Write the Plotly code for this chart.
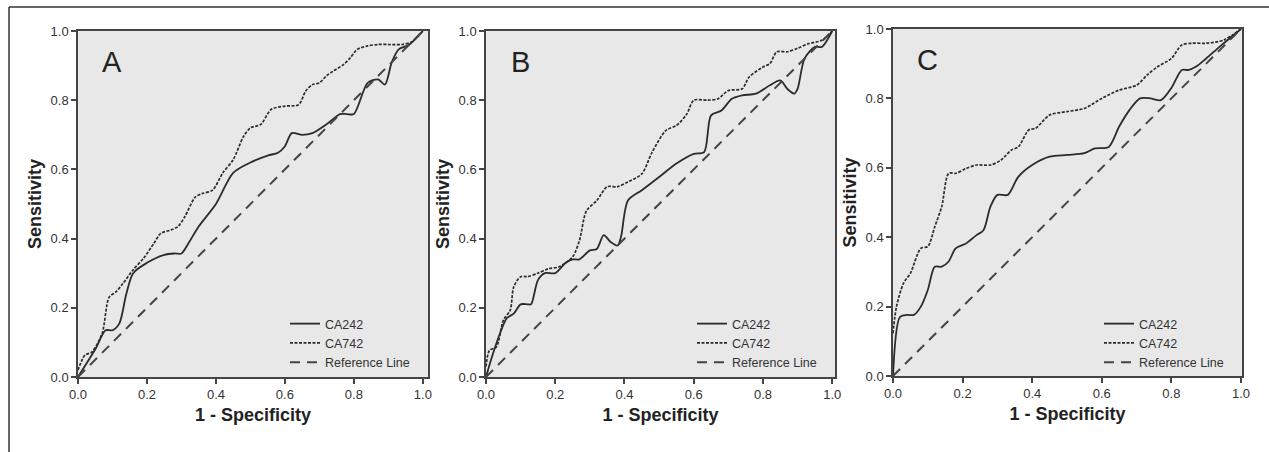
import plotly.graph_objects as go

# 1 - specificity / sensitivity
a_ca242_x = [0, 0.05, 0.08, 0.10, 0.12, 0.14, 0.16, 0.20, 0.25, 0.28, 0.30, 0.32, 0.35, 0.40, 0.45, 0.50,
             0.55, 0.58, 0.60, 0.62, 0.65, 0.68, 0.72, 0.76, 0.78, 0.80, 0.84, 0.87, 0.89, 0.91, 0.93, 0.96, 1.0]
a_ca242_y = [0, 0.08, 0.135, 0.135, 0.155, 0.24, 0.30, 0.33, 0.353, 0.357, 0.357, 0.386, 0.435, 0.50, 0.59, 0.62,
             0.64, 0.648, 0.667, 0.705, 0.70, 0.705, 0.73, 0.76, 0.76, 0.76, 0.85, 0.86, 0.845, 0.91, 0.947, 0.96, 1.0]
a_ca742_x = [0, 0.02, 0.04, 0.07, 0.09, 0.11, 0.13, 0.16, 0.19, 0.22, 0.24, 0.27, 0.29, 0.31, 0.34, 0.36, 0.39,
             0.42, 0.45, 0.48, 0.50, 0.53, 0.56, 0.60, 0.64, 0.66, 0.68, 0.70, 0.72, 0.74, 0.77, 0.79, 0.81, 0.84,
             0.87, 0.90, 0.94, 0.97, 1.0]
a_ca742_y = [0.02, 0.063, 0.072, 0.126, 0.23, 0.246, 0.27, 0.31, 0.343, 0.386, 0.415, 0.425, 0.435, 0.464, 0.52,
             0.53, 0.54, 0.59, 0.628, 0.695, 0.72, 0.73, 0.773, 0.783, 0.787, 0.826, 0.845, 0.85, 0.87, 0.884, 0.903,
             0.923, 0.947, 0.957, 0.961, 0.961, 0.961, 0.97, 1.0]

b_ca242_x = [0, 0.02, 0.04, 0.06, 0.08, 0.10, 0.12, 0.13, 0.15, 0.17, 0.20, 0.23, 0.25, 0.27, 0.30, 0.32, 0.34,
             0.36, 0.38, 0.39, 0.41, 0.45, 0.50, 0.55, 0.60, 0.63, 0.65, 0.68, 0.71, 0.74, 0.78, 0.82, 0.85, 0.87,
             0.89, 0.90, 0.92, 0.95, 0.97, 1.0]
b_ca242_y = [0, 0.067, 0.125, 0.17, 0.183, 0.21, 0.21, 0.21, 0.28, 0.30, 0.30, 0.33, 0.34, 0.34, 0.366, 0.37,
             0.41, 0.39, 0.38, 0.405, 0.51, 0.54, 0.578, 0.617, 0.645, 0.65, 0.756, 0.77, 0.804, 0.814, 0.819,
             0.843, 0.857, 0.833, 0.819, 0.833, 0.92, 0.954, 0.954, 1.0]
b_ca742_x = [0, 0.01, 0.03, 0.05, 0.07, 0.08, 0.10, 0.12, 0.15, 0.18, 0.21, 0.25, 0.27, 0.29, 0.32, 0.35, 0.38,
             0.41, 0.45, 0.48, 0.52, 0.55, 0.58, 0.60, 0.64, 0.67, 0.70, 0.74, 0.76, 0.80, 0.82, 0.84, 0.87, 0.90,
             0.93, 0.97, 1.0]
b_ca742_y = [0.03, 0.077, 0.087, 0.164, 0.193, 0.26, 0.29, 0.29, 0.30, 0.313, 0.318, 0.347, 0.395, 0.48, 0.51,
             0.55, 0.55, 0.564, 0.587, 0.65, 0.713, 0.727, 0.76, 0.80, 0.80, 0.804, 0.828, 0.833, 0.867, 0.896,
             0.906, 0.94, 0.94, 0.95, 0.963, 0.973, 1.0]

c_ca242_x = [0, 0.02, 0.04, 0.06, 0.08, 0.10, 0.12, 0.14, 0.16, 0.18, 0.21, 0.24, 0.26, 0.28, 0.30, 0.33, 0.36,
             0.40, 0.45, 0.50, 0.55, 0.58, 0.62, 0.65, 0.68, 0.71, 0.74, 0.77, 0.80, 0.83, 0.85, 0.87, 0.90, 0.94, 1.0]
c_ca242_y = [0, 0.17, 0.176, 0.176, 0.20, 0.248, 0.315, 0.315, 0.33, 0.368, 0.382, 0.406, 0.42, 0.488, 0.522,
             0.522, 0.574, 0.608, 0.632, 0.637, 0.642, 0.656, 0.66, 0.719, 0.767, 0.80, 0.80, 0.795, 0.83, 0.882,
             0.882, 0.891, 0.915, 0.95, 1.0]
c_ca742_x = [0, 0.01, 0.03, 0.05, 0.08, 0.10, 0.12, 0.14, 0.16, 0.18, 0.21, 0.24, 0.28, 0.31, 0.34, 0.36, 0.39,
             0.41, 0.45, 0.50, 0.55, 0.60, 0.65, 0.70, 0.73, 0.76, 0.80, 0.83, 0.86, 0.90, 0.95, 1.0]
c_ca742_y = [0.123, 0.20, 0.267, 0.296, 0.368, 0.373, 0.43, 0.488, 0.584, 0.584, 0.598, 0.608, 0.608, 0.622,
             0.651, 0.66, 0.709, 0.714, 0.752, 0.762, 0.771, 0.80, 0.824, 0.838, 0.867, 0.891, 0.915, 0.954, 0.959,
             0.959, 0.968, 1.0]

ref_x = [0, 1]
ref_y = [0, 1]

panels = [
    ("A", a_ca242_x, a_ca242_y, a_ca742_x, a_ca742_y),
    ("B", b_ca242_x, b_ca242_y, b_ca742_x, b_ca742_y),
    ("C", c_ca242_x, c_ca242_y, c_ca742_x, c_ca742_y),
]

W, H = 1269, 452
# pixel boxes of each plot frame: left, right, top, bottom
boxes = [(78, 428, 31, 377), (486, 835, 31, 377), (893, 1242, 29, 376)]
xmax = [1.015, 1.008, 1.003]
legend_x = [285, 692, 1099]

LINE = "#2b2b2b"
FONT = "Arial, Liberation Sans, sans-serif"

fig = go.Figure()

for i, (letter, x1, y1, x2, y2) in enumerate(panels):
    n = "" if i == 0 else str(i + 1)
    xa, ya = "x" + n, "y" + n
    lg = "legend" + n
    fig.add_trace(go.Scatter(x=x1, y=y1, mode="lines", name="CA242", xaxis=xa, yaxis=ya, legend=lg,
                             line=dict(color=LINE, width=1.8, shape="spline", smoothing=0.8)))
    fig.add_trace(go.Scatter(x=x2, y=y2, mode="lines", name="CA742", xaxis=xa, yaxis=ya, legend=lg,
                             line=dict(color=LINE, width=1.7, dash="3px,1.5px", shape="spline", smoothing=0.8)))
    fig.add_trace(go.Scatter(x=ref_x, y=ref_y, mode="lines", name="Reference Line", xaxis=xa, yaxis=ya, legend=lg,
                             line=dict(color="#444444", width=2, dash="10px,7px")))

    l, r, t, b = boxes[i]
    axis_common = dict(showline=True, mirror=True, linecolor="#444444", linewidth=1.5, showgrid=False,
                       zeroline=False, ticks="outside", ticklen=5, tickwidth=1.5, tickcolor="#444444",
                       tickfont=dict(family=FONT, size=13, color="#333333"), tickformat=".1f", dtick=0.2,
                       fixedrange=True, automargin=False)
    fig.update_layout({
        "xaxis" + n: dict(domain=[l / W, r / W], range=[0, xmax[i]], anchor=ya,
                          title=dict(text="<b>1 - Specificity</b>", standoff=7,
                                     font=dict(family=FONT, size=18, color="#222222")),
                          **axis_common),
        "yaxis" + n: dict(domain=[1 - b / H, 1 - t / H], range=[0, 1.0], anchor=xa,
                          title=dict(text="<b>Sensitivity</b>", standoff=4,
                                     font=dict(family=FONT, size=18, color="#222222")),
                          **axis_common),
        lg: dict(x=legend_x[i] / W, y=1 - 309 / H, xanchor="left", yanchor="top",
                 bgcolor="rgba(0,0,0,0)", itemwidth=30, tracegroupgap=0,
                 font=dict(family=FONT, size=12.5, color="#333333")),
    })
    fig.add_annotation(text=letter, x=0.1, y=0.91, xref=xa, yref=ya, showarrow=False,
                       font=dict(family=FONT, size=29, color="#222222"))

# thin outer frame of the figure (top and left edges only)
fig.add_shape(type="line", xref="paper", yref="paper", x0=9 / W, x1=1, y0=1 - 7 / H, y1=1 - 7 / H,
              line=dict(color="#333333", width=1.5))
fig.add_shape(type="line", xref="paper", yref="paper", x0=9 / W, x1=9 / W, y0=0, y1=1 - 7 / H,
              line=dict(color="#333333", width=1.5))

fig.update_layout(
    width=W, height=H,
    margin=dict(l=0, r=0, t=0, b=0, pad=0, autoexpand=False),
    paper_bgcolor="white",
    plot_bgcolor="#e8e8e8",
    showlegend=True,
)

# page body has a default 8px margin; drop it so the figure sits at the window origin
fig.write_html("out.html", config={"displayModeBar": False},
               post_script="document.body.style.margin='0';")
